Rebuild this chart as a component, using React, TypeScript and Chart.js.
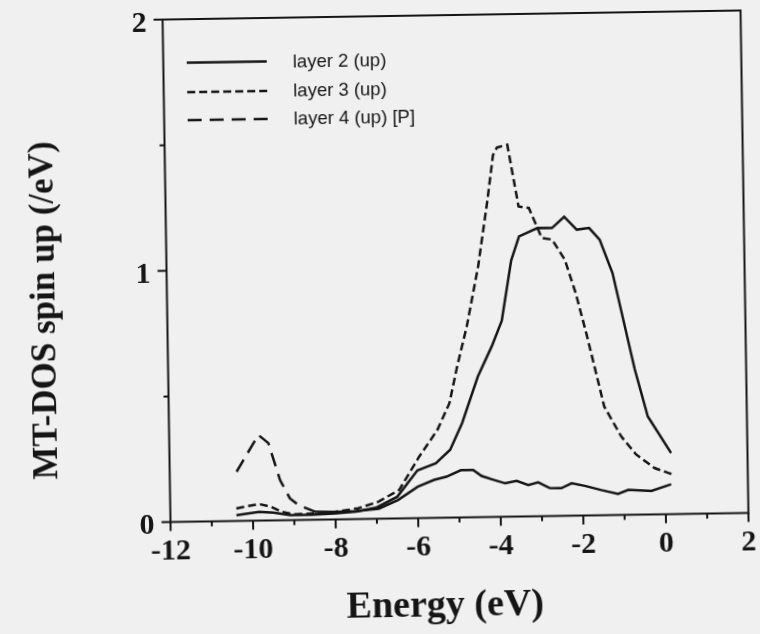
import React, { useEffect, useRef } from 'react';
import { Chart, registerables } from 'chart.js';

Chart.register(...registerables);

// ---- data ----
const layer2Energy = [-10.4, -9.85, -9.5, -9.1, -8.6, -8.0, -7.5, -7.0, -6.5, -6.0, -5.55, -5.2, -4.9, -4.5, -4.15, -3.9, -3.65, -3.45, -3.0, -2.65, -2.35, -2.05, -1.75, -1.5, -1.2, -0.7, -0.4, 0.15];
const layer2Dos = [0.023, 0.035, 0.031, 0.02, 0.02, 0.024, 0.03, 0.045, 0.086, 0.19, 0.217, 0.27, 0.375, 0.56, 0.68, 0.78, 1.02, 1.115, 1.147, 1.146, 1.19, 1.138, 1.144, 1.097, 0.963, 0.58, 0.39, 0.243];

const layer3Energy = [-10.4, -9.85, -9.55, -9.3, -9.0, -8.5, -8.0, -7.45, -6.95, -6.45, -5.95, -5.5, -5.2, -5.0, -4.75, -4.45, -4.2, -4.05, -3.95, -3.7, -3.45, -3.2, -2.9, -2.65, -2.35, -2.1, -1.85, -1.45, -1.05, -0.7, -0.25, 0.15];
const layer3Dos = [0.05, 0.066, 0.054, 0.034, 0.023, 0.025, 0.03, 0.043, 0.068, 0.113, 0.245, 0.35, 0.455, 0.6, 0.76, 1.0, 1.263, 1.44, 1.47, 1.48, 1.234, 1.227, 1.107, 1.1, 1.019, 0.886, 0.72, 0.432, 0.312, 0.24, 0.184, 0.16];

const layer4Energy = [-10.38, -9.84, -9.6, -9.33, -9.1, -8.9, -8.5, -8.0, -7.5, -6.95, -6.48, -6.0, -5.6, -5.3, -4.95, -4.65, -4.45, -4.2, -3.88, -3.6, -3.32, -3.08, -2.8, -2.52, -2.27, -1.95, -1.55, -1.15, -0.9, -0.34, 0.14];
const layer4Dos = [0.196, 0.341, 0.308, 0.16, 0.087, 0.06, 0.032, 0.03, 0.032, 0.04, 0.073, 0.125, 0.151, 0.163, 0.188, 0.188, 0.164, 0.15, 0.133, 0.142, 0.125, 0.135, 0.111, 0.11, 0.129, 0.118, 0.1, 0.084, 0.099, 0.094, 0.119];

const legendLabels = ['layer 2 (up)', 'layer 3 (up)', 'layer 4 (up) [P]'];
const xTitle = 'Energy (eV)';
const yTitle = 'MT-DOS spin up (/eV)';
const xMin = -12;
const xMax = 2;
const yMin = 0;
const yMax = 2;

// ---- style ----
const INK = '#151515';
const SERIF = "'Liberation Serif', 'Times New Roman', serif";
const SANS = "'Liberation Sans', Arial, sans-serif";
const DASH_SHORT = [8, 4];
const DASH_LONG = [14, 8];
const LAYER4_DASHED_BELOW = -8.45; // dashes only visible on the s-peak part

const toPoints = (xs: number[], ys: number[]) => xs.map((x, i) => ({ x, y: ys[i] }));

const decorations = {
  id: 'decorations',
  afterDatasetsDraw(chart: any) {
    const { ctx, chartArea: ca, scales } = chart;
    const xs = scales.x;
    const ys = scales.y;
    ctx.save();
    ctx.strokeStyle = INK;
    ctx.fillStyle = INK;
    ctx.setLineDash([]);
    ctx.lineWidth = 2;
    ctx.strokeRect(ca.left, ca.top, ca.right - ca.left, ca.bottom - ca.top);

    // outward tick marks
    ctx.beginPath();
    for (let v = xMin; v <= xMax; v += 1) {
      const px = xs.getPixelForValue(v);
      const len = v % 2 === 0 ? 9 : 5;
      ctx.moveTo(px, ca.bottom);
      ctx.lineTo(px, ca.bottom + len);
    }
    for (let v = yMin; v <= yMax + 1e-9; v += 0.5) {
      const py = ys.getPixelForValue(v);
      const len = Math.abs(v - Math.round(v)) < 1e-9 ? 9 : 5;
      ctx.moveTo(ca.left, py);
      ctx.lineTo(ca.left - len, py);
    }
    ctx.stroke();

    // axis titles
    ctx.textAlign = 'center';
    ctx.textBaseline = 'middle';
    ctx.font = `bold 38px ${SERIF}`;
    ctx.fillText(xTitle, 440, 606);
    ctx.save();
    ctx.translate(45, 304);
    ctx.rotate(-Math.PI / 2);
    ctx.font = `bold 35px ${SERIF}`;
    ctx.fillText(yTitle, 0, 0);
    ctx.restore();

    // legend
    const dashes = [[], DASH_SHORT, DASH_LONG];
    const rows = [58.5, 88, 116];
    ctx.font = `18.5px ${SANS}`;
    ctx.textAlign = 'left';
    legendLabels.forEach((label, i) => {
      ctx.setLineDash(dashes[i]);
      ctx.lineWidth = 2.5;
      ctx.beginPath();
      ctx.moveTo(ca.left + 23.5, ca.top + rows[i] - 15);
      ctx.lineTo(ca.left + 103.5, ca.top + rows[i] - 15);
      ctx.stroke();
      ctx.setLineDash([]);
      ctx.fillText(label, ca.left + 129.5, ca.top + rows[i] - 14);
    });
    ctx.restore();
  },
};

export default function App() {
  const ref = useRef<HTMLCanvasElement>(null);

  useEffect(() => {
    const canvas = ref.current;
    if (!canvas) return;
    const chart = new Chart(canvas, {
      type: 'line',
      data: {
        datasets: [
          {
            label: legendLabels[0],
            data: toPoints(layer2Energy, layer2Dos),
            borderColor: INK,
            borderWidth: 2.5,
            pointRadius: 0,
            tension: 0,
            fill: false,
          },
          {
            label: legendLabels[1],
            data: toPoints(layer3Energy, layer3Dos),
            borderColor: INK,
            borderWidth: 2.5,
            borderDash: DASH_SHORT,
            pointRadius: 0,
            tension: 0,
            fill: false,
          },
          {
            label: legendLabels[2],
            data: toPoints(layer4Energy, layer4Dos),
            borderColor: INK,
            borderWidth: 2.5,
            borderDash: [],
            pointRadius: 0,
            tension: 0,
            fill: false,
            segment: {
              borderDash: (c: any) => (c.p1.parsed.x <= LAYER4_DASHED_BELOW ? DASH_LONG : []),
            },
          },
        ],
      },
      options: {
        animation: false,
        responsive: false,
        maintainAspectRatio: false,
        devicePixelRatio: 1,
        layout: { autoPadding: false, padding: { left: 0, top: 15, right: 15.5, bottom: 0 } },
        plugins: { legend: { display: false }, tooltip: { enabled: false } },
        scales: {
          x: {
            type: 'linear',
            position: 'bottom',
            min: xMin,
            max: xMax,
            afterFit: (s: any) => { s.height = 116.5; s.paddingLeft = 0; s.paddingRight = 0; },
            grid: { display: false, drawTicks: false },
            border: { display: false },
            ticks: {
              stepSize: 2,
              autoSkip: false,
              maxRotation: 0,
              padding: 12,
              color: INK,
              font: { family: SERIF, weight: 'bold', size: 30 },
            },
          },
          y: {
            type: 'linear',
            min: yMin,
            max: yMax,
            afterFit: (s: any) => { s.width = 166.5; s.paddingTop = 0; s.paddingBottom = 0; },
            grid: { display: false, drawTicks: false },
            border: { display: false },
            ticks: {
              stepSize: 1,
              padding: 16,
              labelOffset: 4,
              color: INK,
              font: { family: SERIF, weight: 'bold', size: 30 },
            },
          },
        },
      },
      plugins: [decorations],
    } as any);
    return () => chart.destroy();
  }, []);

  return (
    <div style={{ position: 'fixed', left: 0, top: 0, width: 760, height: 634, background: '#f0f0f0', overflow: 'hidden' }}>
      <div style={{ position: 'absolute', left: 0, top: 0, width: 760, height: 634, transform: 'rotate(-0.9deg)', transformOrigin: '455.5px 266px' }}>
        <canvas ref={ref} width={760} height={634} style={{ display: 'block', width: 760, height: 634 }} />
      </div>
    </div>
  );
}
